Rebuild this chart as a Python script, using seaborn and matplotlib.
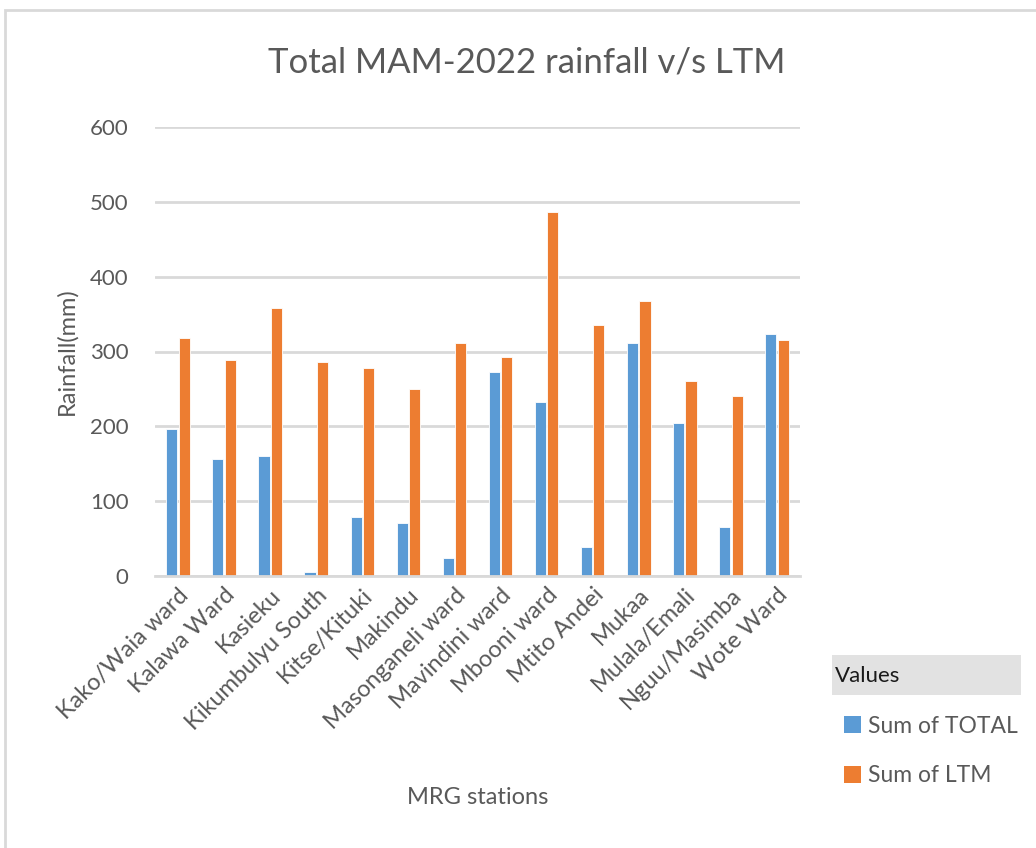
import matplotlib
matplotlib.use("Agg")
import matplotlib.pyplot as plt
import matplotlib.patches as mpatches
import seaborn as sns
import pandas as pd

stations = ["Kako/Waia ward", "Kalawa Ward", "Kasieku", "Kikumbulyu South",
            "Kitse/Kituki", "Makindu", "Masonganeli ward", "Mavindini ward",
            "Mbooni ward", "Mtito Andei", "Mukaa", "Mulala/Emali",
            "Nguu/Masimba", "Wote Ward"]
total = [196, 156, 160, 5, 79, 71, 24, 272, 232, 39, 312, 204, 65, 324]
ltm = [318, 288, 358, 286, 278, 250, 312, 292, 486, 336, 368, 260, 240, 316]
series = ["Sum of TOTAL", "Sum of LTM"]
colors = ["#5B9BD5", "#ED7D31"]

df = pd.DataFrame({"station": stations, series[0]: total, series[1]: ltm})
long = df.melt(id_vars="station", var_name="series", value_name="value")

sns.set_theme(style="white")
plt.rcParams["font.family"] = ["Lato", "DejaVu Sans"]
grey = "#595959"

fig = plt.figure(figsize=(10.36, 8.48), dpi=100)
ax = fig.add_axes([155/1036, 1-576/848, (800-155)/1036, (576-127)/848])

sns.barplot(data=long, x="station", y="value", hue="series", hue_order=series,
            palette=colors, width=0.54, gap=0.1, ax=ax, legend=False,
            saturation=1, edgecolor="white", linewidth=0.6)

ax.set_ylim(0, 600)
ax.set_xlim(-0.5, len(stations) - 0.5)
ax.set_yticks(range(0, 601, 100))
ax.yaxis.grid(True, color="#d9d9d9", linewidth=2)
ax.set_axisbelow(True)
for s in ["top", "right", "left"]:
    ax.spines[s].set_visible(False)
ax.spines["bottom"].set_color("#d9d9d9")
ax.spines["bottom"].set_linewidth(2)
ax.tick_params(axis="y", length=0, colors=grey, labelsize=16, pad=19)
ax.tick_params(axis="x", length=0, colors=grey, labelsize=17, pad=6)
ax.set_xticks(range(len(stations)))
ax.set_xticklabels(stations, rotation=45, ha="right", rotation_mode="anchor")

ax.set_xlabel("MRG stations", fontsize=17, color=grey)
ax.xaxis.label.set_va("center")
ax.xaxis.set_label_coords(0.5, (576-798)/449)
ax.set_ylabel("Rainfall(mm)", fontsize=17, color=grey)
ax.yaxis.label.set_va("center")
ax.yaxis.set_label_coords((67-155)/645, 0.5)

fig.text(527/1036, 1-63/848, "Total MAM-2022 rainfall v/s LTM", fontsize=25,
         color=grey, ha="center", va="center")

# chart frame
fig.patches.append(mpatches.Rectangle((5/1036, -0.05), 1.1, 1-10/848+0.05,
                   transform=fig.transFigure, fill=False, edgecolor="#d9d9d9",
                   linewidth=2))

# legend header
fig.patches.append(mpatches.Rectangle((832/1036, 1-695/848), (1021-832)/1036, 40/848,
                   transform=fig.transFigure, facecolor="#e2e2e2", edgecolor="none"))
fig.text(835/1036, 1-676/848, "Values", fontsize=16, color="#1a1a1a",
         ha="left", va="center")
handles = [mpatches.Patch(facecolor=c, edgecolor="none") for c in colors]
fig.legend(handles, series, loc="upper left", bbox_to_anchor=(823/1036, 1-695/848),
           frameon=False, fontsize=16.5, labelcolor=grey, handlelength=0.75,
           handleheight=0.75, handletextpad=0.3, labelspacing=1.25)

fig.savefig("out.png", dpi=100)
